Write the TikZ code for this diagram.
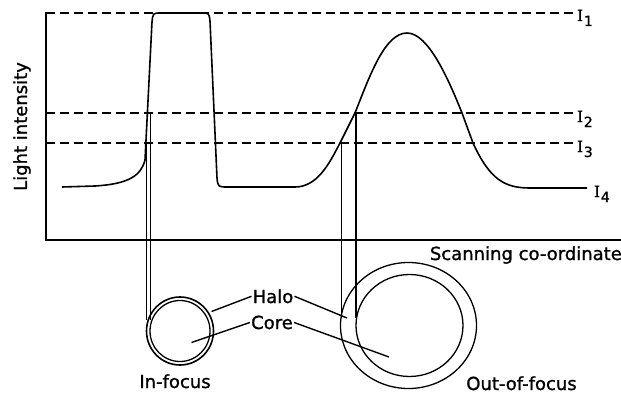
\documentclass[tikz,border=0pt]{standalone}
\usepackage{fontspec}
\setmainfont[FakeBold=1.2]{DejaVu Sans}
\newfontfamily\serifI[FakeBold=1.5]{Liberation Serif}
\newcommand{\ilab}[1]{{\fontsize{17}{17}\serifI I}\hspace{1pt}\raisebox{-5pt}{\fontsize{14}{14}\selectfont #1}}
\usetikzlibrary{shapes.geometric}
\begin{document}
\begin{tikzpicture}[x=1pt,y=-1pt,
  ln/.style={line width=1.4pt},
  pl/.style={line width=1.4pt},
  curve/.style={line width=1.6pt, line join=round},
  dsh/.style={line width=1.6pt, dash pattern=on 9pt off 5pt},
  lbl/.style={font=\fontsize{18}{20}\selectfont, inner sep=1pt},
  ilbl/.style={inner sep=0pt, anchor=base west},
  ring/.style={ellipse, draw, line width=1.3pt, inner sep=0pt}
]
\useasboundingbox (0,0) rectangle (621,396);
% axes
\coordinate (top) at (46,12);
\coordinate (org) at (46,240);
\coordinate (xend) at (621,240);
\draw[ln] (top) -- (org) -- (xend);
% dashed levels
\draw[dsh] (46,13) -- (576,13);
\draw[dsh] (46,113) -- (576,113);
\draw[dsh] (46,143) -- (576,143);
\node[ilbl] (i1) at (577,21) {\ilab{1}};
\node[ilbl] (i2) at (577,122) {\ilab{2}};
\node[ilbl] (i3) at (577,152) {\ilab{3}};
\node[ilbl] (i4) at (594,197) {\ilab{4}};
% intensity curve
\draw[curve] (62,187) -- (95,186) .. controls (128,184) and (141,176) .. (145,160)
  -- (152,22) .. controls (153,13) .. (161,13) -- (202,13)
  .. controls (209,13) .. (210,21) -- (217,178) .. controls (218,187) .. (228,187)
  -- (295,187) .. controls (318,187) and (330,162) .. (340,143) -- (355,113)
  .. controls (370,75) and (385,33) .. (407,33)
  .. controls (428,33) and (448,78) .. (462,113) -- (473,143)
  .. controls (490,180) and (505,188) .. (530,188) -- (587,188);
% circles
\node[ring, minimum width=67pt, minimum height=68pt, line width=1.6pt] (hin) at (180,331) {};
\node[ring, minimum width=60pt, minimum height=61pt] (cin) at (180,331) {};
\node[ring, minimum width=136pt, minimum height=126pt] (hout) at (408.5,325.5) {};
\node[ring, minimum width=107pt, minimum height=102pt] (cout) at (409.5,325.5) {};
% projection lines
\coordinate (a3) at (146.5,143);
\coordinate (a2) at (150.5,113);
\coordinate (b3) at (341.5,143);
\coordinate (b2) at (356,113);
\draw[pl] (a3) -- ++(0,177);
\draw[pl] (a2) -- ++(0,207);
\draw[pl] (b3) -- ++(0,175);
\draw[pl] (b2) -- ++(0,205);
% labels
\node[lbl, anchor=base] (halo) at (273,303) {Halo};
\node[lbl, anchor=base] (core) at (272,329) {Core};
\coordinate (hl) at (211.5,311.5);
\coordinate (hr) at (347,318);
\coordinate (cl) at (191.5,342.5);
\coordinate (cr) at (389,357);
\draw[pl] (halo.west) -- (hl);
\draw[pl] (halo.east) -- (hr);
\draw[pl] (core.west) -- (cl);
\draw[pl] (core.east) -- (cr);
\node[lbl, anchor=base] (inf) at (175,388) {In-focus};
\node[lbl, anchor=base] (outf) at (521.5,390) {Out-of-focus};
\node[lbl, anchor=base east, inner sep=0pt] (scan) at (622,260) {Scanning co-ordinate};
\node[lbl, anchor=base, rotate=90, inner sep=0pt] (yl) at (27,126.5) {Light intensity};
\end{tikzpicture}
\end{document}
